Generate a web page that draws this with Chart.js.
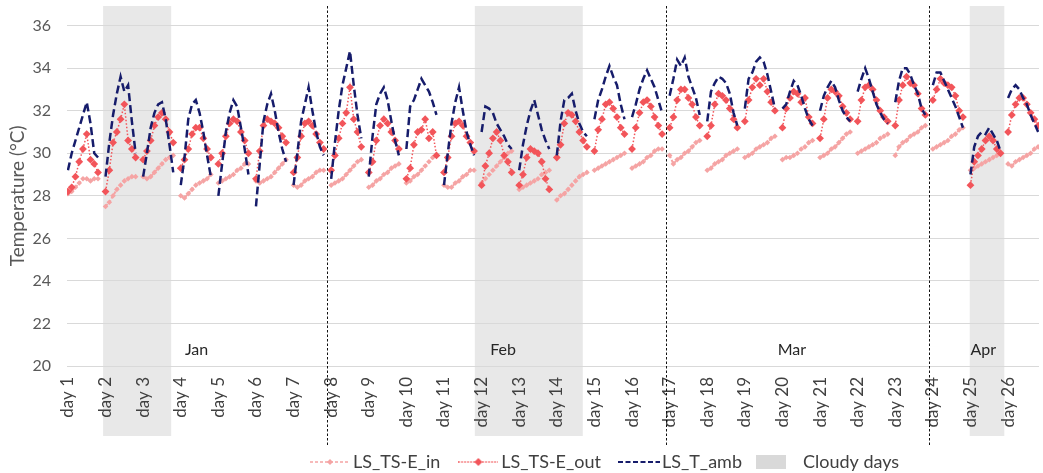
<!DOCTYPE html>
<html><head><meta charset="utf-8">
<script src="https://cdn.jsdelivr.net/npm/chart.js@4.4.0/dist/chart.umd.min.js"></script>
<style>html,body{margin:0;padding:0;background:#fff;overflow:hidden}</style>
</head><body>
<canvas id="c" width="1043" height="473"></canvas>
<script>
// ---- data ----
const dayLabels = ['day 1','day 2','day 3','day 4','day 5','day 6','day 7','day 8','day 9','day 10','day 11','day 12','day 13',
  'day 14','day 15','day 16','day 17','day 18','day 19','day 20','day 21','day 22','day 23','day 24','day 25','day 26'];
const yTicks = [20, 22, 24, 26, 28, 30, 32, 34, 36];
const months = ['Jan', 'Feb', 'Mar', 'Apr'];
const monthAtDay = [4.42, 12.57, 20.25, 25.34];
const monthBoundaryDay = [7.9, 16.9, 23.9];
const cloudyFrom = [1.935, 11.82, 24.98];
const cloudyTo = [3.746, 14.69, 25.9];

// 9 daytime readings per day, one row per day
const tsIn = [
 [28.1,28.2,28.4,28.6,28.8,28.8,28.7,28.8,28.8],
 [27.5,27.7,28.0,28.3,28.5,28.7,28.8,28.9,28.9],
 [28.9,28.8,28.9,29.1,29.3,29.5,29.7,29.8,29.9],
 [28.0,27.9,28.1,28.3,28.5,28.6,28.7,28.8,29.0],
 [28.6,28.7,28.8,28.9,29.0,29.2,29.3,29.5,29.5],
 [28.7,28.6,28.7,28.8,28.9,29.1,29.3,29.5,29.7],
 [28.5,28.4,28.5,28.7,28.8,28.9,29.1,29.2,29.2],
 [28.5,28.6,28.7,28.8,29.0,29.2,29.4,29.6,29.7],
 [28.4,28.5,28.7,28.8,29.0,29.1,29.3,29.4,29.5],
 [28.6,28.7,28.9,29.0,29.2,29.4,29.6,29.8,29.9],
 [28.5,28.4,28.4,28.6,28.7,28.9,29.0,29.2,29.2],
 [28.6,28.8,29.0,29.2,29.4,29.6,29.8,30.0,30.1],
 [28.3,28.4,28.5,28.6,28.7,28.8,29.0,29.1,29.2],
 [27.8,28.0,28.1,28.3,28.5,28.7,28.9,29.0,29.1],
 [29.2,29.3,29.4,29.5,29.6,29.7,29.8,29.9,30.0],
 [29.3,29.4,29.5,29.6,29.8,29.9,30.1,30.2,30.2],
 [29.9,29.5,29.7,29.8,30.0,30.1,30.3,30.5,30.6],
 [29.2,29.3,29.5,29.6,29.7,29.9,30.0,30.1,30.2],
 [29.8,29.9,30.0,30.2,30.3,30.4,30.5,30.7,30.8],
 [29.7,29.8,29.8,29.9,30.0,30.2,30.3,30.5,30.6],
 [29.8,29.9,30.0,30.2,30.3,30.5,30.7,30.9,31.0],
 [30.0,30.1,30.2,30.3,30.4,30.5,30.7,30.8,30.9],
 [29.9,30.3,30.5,30.6,30.8,30.9,31.0,31.2,31.3],
 [30.2,30.3,30.4,30.5,30.6,30.8,30.9,31.1,31.2],
 [29.2,29.3,29.4,29.5,29.6,29.7,29.8,29.9,30.0],
 [29.5,29.4,29.6,29.7,29.8,29.9,30.0,30.2,30.3]
];
const tsOut = [
 [28.2,28.4,28.9,29.6,30.2,30.9,29.7,29.5,29.1],
 [28.2,29.2,30.5,31.0,31.6,32.3,30.6,30.2,29.8],
 [29.7,30.1,30.6,31.3,31.7,31.9,31.6,31.0,30.5],
 [29.3,29.7,30.2,30.9,31.2,31.2,30.7,30.2,29.8],
 [29.5,30.0,30.8,31.4,31.6,31.5,31.0,30.6,30.0],
 [28.8,30.1,31.3,31.6,31.5,31.4,31.2,30.8,30.5],
 [29.1,29.8,30.8,31.4,31.5,31.3,30.9,30.5,30.2],
 [29.2,29.9,30.7,31.4,31.9,33.1,31.6,31.0,30.3],
 [29.1,29.6,30.6,31.3,31.6,31.4,31.0,30.6,30.2],
 [28.8,29.3,30.4,31.0,31.1,31.6,30.7,31.0,29.9],
 [29.1,29.8,30.8,31.4,31.5,31.3,30.8,30.5,30.1],
 [28.5,29.4,30.0,30.7,31.0,30.6,29.9,29.6,29.1],
 [28.5,29.0,29.8,30.2,30.1,30.0,29.6,28.8,28.3],
 [29.8,30.4,31.4,31.9,31.8,31.5,31.0,30.6,30.3],
 [30.1,31.1,31.6,32.3,32.4,32.1,31.7,31.2,30.9],
 [30.2,31.2,31.9,32.4,32.5,32.2,31.7,31.3,30.9],
 [31.2,31.7,32.5,33.0,33.0,32.6,32.3,31.7,31.3],
 [30.8,31.3,32.3,32.8,32.7,32.5,32.1,31.6,31.2],
 [31.5,32.5,33.1,33.5,33.2,33.5,32.9,32.4,32.0],
 [31.2,32.1,32.6,32.9,32.8,32.4,32.6,31.7,31.4],
 [30.7,31.6,32.6,33.0,32.9,32.7,32.2,31.9,31.6],
 [31.5,32.5,33.1,33.2,33.0,32.5,32.0,31.7,31.5],
 [31.3,32.5,33.2,33.6,33.3,33.2,32.8,32.1,31.8],
 [32.5,33.0,33.5,33.3,33.2,33.1,32.7,32.0,31.7],
 [28.5,29.6,29.9,30.2,30.6,30.8,30.6,30.2,30.0],
 [31.0,31.8,32.3,32.6,32.6,32.3,31.9,31.6,31.3]
];
const tAmb = [
 [29.2,30.0,30.6,31.2,31.8,32.4,31.4,30.0,29.8],
 [28.9,30.5,31.8,32.8,33.6,32.9,33.2,31.5,30.0],
 [28.9,30.0,31.2,31.9,32.3,32.4,31.6,30.4,29.1],
 [28.5,29.8,31.6,32.3,32.5,31.9,31.0,29.9,28.9],
 [28.0,29.5,31.0,31.9,32.5,32.2,31.2,30.2,29.0],
 [27.5,29.5,31.5,32.3,32.8,32.0,31.0,30.2,29.6],
 [28.5,30.0,31.5,32.3,33.1,32.0,31.0,30.3,29.9],
 [28.8,30.5,32.0,33.2,34.0,34.8,33.2,31.8,30.7],
 [28.9,30.8,32.3,32.8,33.1,32.5,31.5,30.6,29.9],
 [30.2,32.2,32.5,33.0,33.5,33.2,32.9,32.4,31.8],
 [28.5,30.0,31.4,32.4,33.1,32.0,31.0,30.4,29.9],
 [31.0,32.2,32.1,31.9,31.4,31.1,30.8,30.4,30.2],
 [29.2,30.4,31.3,32.0,32.5,31.8,31.1,30.6,30.2],
 [29.9,31.5,32.5,32.6,32.8,32.0,31.4,31.0,30.8],
 [31.6,32.5,33.0,33.6,34.1,33.6,33.2,32.3,31.6],
 [31.7,32.3,33.0,33.5,33.9,33.5,33.1,32.5,31.9],
 [32.7,33.5,34.4,34.1,34.5,33.6,33.1,32.6,31.8],
 [31.5,32.9,33.3,33.6,33.5,33.3,32.8,31.9,31.3],
 [32.1,33.5,33.8,34.3,34.5,34.3,33.7,32.9,32.1],
 [32.1,32.3,32.9,33.4,33.2,32.7,32.1,31.6,31.3],
 [32.0,32.7,33.1,33.4,33.1,32.5,32.0,31.7,31.5],
 [32.9,33.5,34.0,33.5,32.9,32.3,31.9,31.6,31.4],
 [32.4,33.4,34.0,34.0,33.7,33.2,32.8,32.1,31.8],
 [33.2,33.8,33.8,33.4,33.0,32.6,32.2,31.7,31.2],
 [29.0,30.3,30.8,31.0,30.9,31.2,30.9,30.6,30.1],
 [32.6,33.0,33.2,33.0,32.6,32.3,31.8,31.4,31.0]
];
const seriesNames = ['LS_TS-E_in', 'LS_TS-E_out', 'LS_T_amb'];
const cloudyName = 'Cloudy days';

// ---- build ----
const FONT = 'Lato, "Open Sans", sans-serif';
const COL_IN = '#f5a4a4', COL_OUT = '#f2555a', COL_AMB = '#161c6b', COL_CLOUD = '#e8e8e8';

function toPoints(days) {
  const pts = [];
  days.forEach((vals, i) => {
    const d = i + 1;
    vals.forEach((v, h) => pts.push({ x: d + h * 0.1, y: v }));
    pts.push({ x: d + 0.9, y: null });
  });
  return pts;
}

function sym(w, h, draw) {
  const c = document.createElement('canvas');
  c.width = w; c.height = h;
  draw(c.getContext('2d'), w, h);
  return c;
}
function diamond(ctx, x, y, r, col) {
  ctx.setLineDash([]);
  ctx.fillStyle = col;
  ctx.beginPath(); ctx.moveTo(x, y - r); ctx.lineTo(x + r, y); ctx.lineTo(x, y + r); ctx.lineTo(x - r, y); ctx.closePath(); ctx.fill();
}
const symIn = sym(40, 12, (c, w, h) => {
  c.strokeStyle = COL_IN; c.lineWidth = 1.5; c.setLineDash([3, 2]);
  c.beginPath(); c.moveTo(0, h / 2); c.lineTo(w, h / 2); c.stroke();
  diamond(c, w / 2, h / 2, 3, COL_IN);
});
const symOut = sym(40, 12, (c, w, h) => {
  c.strokeStyle = COL_OUT; c.lineWidth = 1.5; c.setLineDash([1.5, 1.5]);
  c.beginPath(); c.moveTo(0, h / 2); c.lineTo(w, h / 2); c.stroke();
  diamond(c, w / 2, h / 2, 4, COL_OUT);
});
const symAmb = sym(42, 12, (c, w, h) => {
  c.strokeStyle = COL_AMB; c.lineWidth = 2; c.setLineDash([5, 2.5]);
  c.beginPath(); c.moveTo(0, h / 2); c.lineTo(w, h / 2); c.stroke();
});
const symCloud = sym(48, 14, (c, w, h) => {
  c.fillStyle = '#d9d9d9'; c.fillRect(0, 0, 30, h);
});

const PIX_PER_DAY = 37.76;
const X_MIN = 0.975;
const X_MAX = X_MIN + 976 / PIX_PER_DAY;

const decorPlugin = {
  id: 'decor',
  beforeDraw(chart) {
    const ctx = chart.ctx, xs = chart.scales.x;
    ctx.save();
    ctx.fillStyle = '#ffffff';
    ctx.fillRect(0, 0, chart.width, chart.height);
    ctx.fillStyle = COL_CLOUD;
    cloudyFrom.forEach((f, i) => {
      const a = xs.getPixelForValue(f), b = xs.getPixelForValue(cloudyTo[i]);
      ctx.fillRect(a, 6, b - a, 430);
    });
    ctx.restore();
  },
  afterDraw(chart) {
    const ctx = chart.ctx, xs = chart.scales.x;
    ctx.save();
    ctx.strokeStyle = '#111'; ctx.lineWidth = 1; ctx.setLineDash([2.5, 2]);
    monthBoundaryDay.forEach(d => {
      const x = Math.round(xs.getPixelForValue(d)) + 0.5;
      ctx.beginPath(); ctx.moveTo(x, 6); ctx.lineTo(x, 447); ctx.stroke();
    });
    ctx.setLineDash([]);
    ctx.fillStyle = '#262626';
    ctx.font = '16px ' + FONT;
    ctx.textAlign = 'center'; ctx.textBaseline = 'middle';
    months.forEach((m, i) => ctx.fillText(m, xs.getPixelForValue(monthAtDay[i]), 350));
    ctx.restore();
  }
};

const legendShift = {
  id: 'legendShift',
  afterLayout(chart) {
    const l = chart.legend;
    if (!l || !l.lineWidths) return;
    const p = l.options.labels.padding;
    const fs = l.options.labels.font.size;
    const startX = (l.left + p + l.right - l.lineWidths[0]) / 2;
    const dx = 316 - startX;
    l.left += dx; l.right += dx;
    l.top = 462 - p - fs / 2;
    l.bottom = chart.height;
    l.height = l.bottom - l.top;
  }
};

new Chart(document.getElementById('c'), {
  type: 'line',
  data: {
    datasets: [
      { label: seriesNames[0], data: toPoints(tsIn), borderColor: COL_IN, backgroundColor: COL_IN,
        borderWidth: 2, borderDash: [3, 2], pointStyle: 'rectRot', pointRadius: 2.8, pointBorderWidth: 0,
        pointBackgroundColor: COL_IN, spanGaps: false, order: 3, tension: 0 },
      { label: seriesNames[1], data: toPoints(tsOut), borderColor: COL_OUT, backgroundColor: COL_OUT,
        borderWidth: 1.5, borderDash: [1.5, 2], pointStyle: 'rectRot', pointRadius: 3.9, pointBorderWidth: 0,
        pointBackgroundColor: COL_OUT, spanGaps: false, order: 2, tension: 0 },
      { label: seriesNames[2], data: toPoints(tAmb), borderColor: COL_AMB, backgroundColor: COL_AMB,
        borderWidth: 2.5, borderDash: [8, 4], pointRadius: 0, pointHoverRadius: 0,
        spanGaps: false, order: 1, tension: 0 }
    ]
  },
  options: {
    responsive: false,
    animation: false,
    devicePixelRatio: 1,
    layout: { padding: { top: 21, left: 0, right: 0, bottom: 0 } },
    plugins: {
      tooltip: { enabled: false },
      legend: {
        position: 'bottom',
        maxHeight: 25,
        labels: {
          usePointStyle: true,
          pointStyleWidth: 28,
          padding: 24,
          color: '#404040',
          font: { family: FONT, size: 18 },
          generateLabels: () => [
            { text: seriesNames[0], pointStyle: symIn, fontColor: '#404040', lineWidth: 0, strokeStyle: 'rgba(0,0,0,0)', fillStyle: 'rgba(0,0,0,0)', hidden: false, datasetIndex: 0 },
            { text: seriesNames[1], pointStyle: symOut, fontColor: '#404040', lineWidth: 0, strokeStyle: 'rgba(0,0,0,0)', fillStyle: 'rgba(0,0,0,0)', hidden: false, datasetIndex: 1 },
            { text: seriesNames[2], pointStyle: symAmb, fontColor: '#404040', lineWidth: 0, strokeStyle: 'rgba(0,0,0,0)', fillStyle: 'rgba(0,0,0,0)', hidden: false, datasetIndex: 2 },
            { text: cloudyName, pointStyle: symCloud, fontColor: '#404040', lineWidth: 0, strokeStyle: 'rgba(0,0,0,0)', fillStyle: 'rgba(0,0,0,0)', hidden: false }
          ]
        },
        onClick: () => {}
      }
    },
    scales: {
      x: {
        type: 'linear',
        min: X_MIN,
        max: X_MAX,
        grid: { display: false, drawTicks: false },
        border: { display: false },
        afterBuildTicks: (scale) => { scale.ticks = dayLabels.map((_, i) => ({ value: i + 1 })); },
        afterFit: (scale) => { scale.height = scale.chart.height - 366 - scale.chart.legend.height; },
        ticks: {
          autoSkip: false, minRotation: 90, maxRotation: 90, padding: 11,
          color: '#404040', font: { family: FONT, size: 17 },
          callback: (v, i) => dayLabels[i]
        }
      },
      y: {
        min: 20, max: 36,
        afterBuildTicks: (scale) => { scale.ticks = yTicks.map(v => ({ value: v })); },
        afterFit: (scale) => { scale.width = 67; },
        grid: { color: '#d9d9d9', lineWidth: 1, drawTicks: false },
        border: { display: false },
        ticks: { padding: 16, color: '#595959', font: { family: FONT, size: 16 } },
        title: { display: true, text: 'Temperature (°C)', color: '#595959',
                 font: { family: FONT, size: 19 }, padding: { top: 6, bottom: 0 } }
      }
    }
  },
  plugins: [decorPlugin, legendShift]
});
</script>
</body></html>
